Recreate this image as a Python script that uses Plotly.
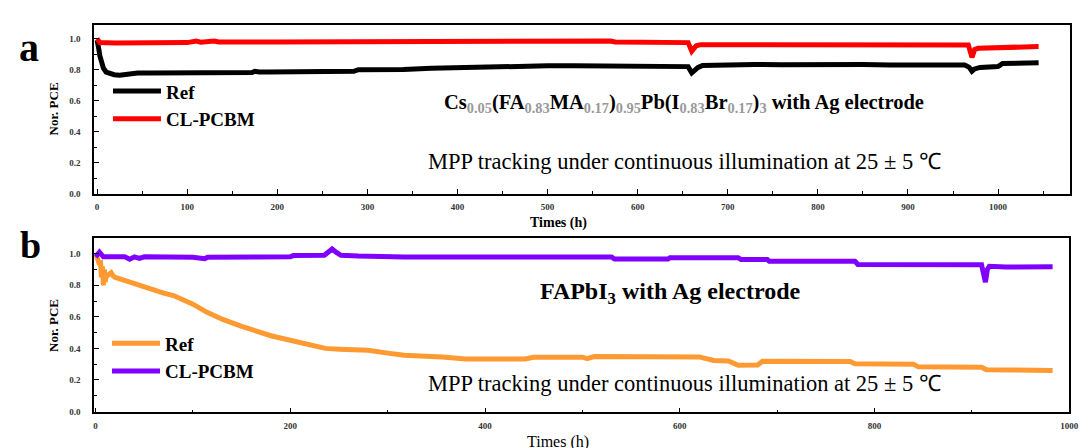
import plotly.graph_objects as go

# ---------------- data ----------------
# Panel a: Cs0.05(FA0.83MA0.17)0.95Pb(I0.83Br0.17)3
a_ref_t = [0, 1, 2, 3, 5, 7, 10, 14, 19, 25, 30, 37, 45, 60, 80, 100, 120, 140, 160, 172, 175, 180,
           190, 200, 230, 260, 285, 290, 310, 340, 371, 400, 430, 450, 475, 500, 530, 560, 590, 620,
           650, 656, 660, 663, 667, 672, 700, 730, 760, 790, 820, 850, 880, 900, 930, 955, 963, 968,
           971, 974, 980, 1000, 1005, 1020, 1045]
a_ref_v = [0.99, 0.97, 0.93, 0.89, 0.84, 0.81, 0.785, 0.775, 0.768, 0.765, 0.77, 0.776, 0.778, 0.778,
           0.779, 0.78, 0.78, 0.78, 0.781, 0.782, 0.79, 0.785, 0.786, 0.786, 0.787, 0.788, 0.79, 0.80,
           0.80, 0.802, 0.81, 0.815, 0.815, 0.818, 0.825, 0.825, 0.826, 0.826, 0.828, 0.827, 0.826,
           0.82, 0.78, 0.80, 0.815, 0.828, 0.832, 0.834, 0.832, 0.834, 0.832, 0.833, 0.830, 0.832,
           0.830, 0.831, 0.83, 0.815, 0.79, 0.805, 0.815, 0.82, 0.84, 0.842, 0.845]

a_cl_t = [0, 1, 3, 20, 60, 100, 110, 115, 130, 135, 200, 285, 290, 342, 400, 420, 500, 570, 575, 650,
          656, 660, 662, 665, 670, 700, 760, 800, 860, 900, 960, 967, 971, 974, 978, 1000, 1020, 1045]
a_cl_v = [1.0, 0.99, 0.975, 0.973, 0.973, 0.975, 0.985, 0.978, 0.985, 0.979, 0.979, 0.98, 0.985,
          0.985, 0.982, 0.985, 0.985, 0.985, 0.979, 0.978, 0.975, 0.92, 0.94, 0.955, 0.962, 0.962,
          0.965, 0.962, 0.965, 0.964, 0.966, 0.96, 0.88, 0.93, 0.938, 0.94, 0.945, 0.95]

# Panel b: FAPbI3
b_ref_t = [0, 2, 4, 5, 6, 7, 8, 9, 10, 11, 12, 14, 16, 18, 20, 25, 30, 40, 50, 60, 70, 80, 90, 100,
           114, 130, 150, 165, 180, 202, 220, 236, 250, 280, 300, 317, 356, 380, 441, 450, 500, 505,
           512, 620, 635, 650, 660, 680, 685, 775, 780, 840, 845, 910, 915, 950, 983]
b_ref_v = [0.99, 0.97, 0.93, 0.96, 0.85, 0.92, 0.80, 0.90, 0.82, 0.88, 0.86, 0.87, 0.88, 0.86, 0.85,
           0.84, 0.83, 0.806, 0.79, 0.77, 0.75, 0.735, 0.71, 0.68, 0.63, 0.585, 0.54, 0.51, 0.48,
           0.448, 0.42, 0.40, 0.395, 0.388, 0.37, 0.357, 0.345, 0.333, 0.333, 0.344, 0.344, 0.335,
           0.348, 0.346, 0.323, 0.32, 0.293, 0.295, 0.318, 0.317, 0.303, 0.30, 0.283, 0.28, 0.265,
           0.265, 0.26]

b_cl_t = [0, 2, 4, 6, 8, 30, 35, 40, 45, 50, 100, 112, 115, 200, 203, 235, 240, 243, 247, 252, 270,
          300, 317, 530, 533, 588, 590, 660, 663, 690, 692, 780, 783, 910, 912, 914, 916, 918, 935, 983]
b_cl_v = [0.98, 1.0, 1.01, 0.995, 0.98, 0.98, 0.965, 0.98, 0.97, 0.98, 0.978, 0.968, 0.978, 0.98,
          0.988, 0.99, 1.01, 1.03, 1.01, 0.99, 0.985, 0.98, 0.979, 0.979, 0.966, 0.966, 0.975, 0.975,
          0.963, 0.963, 0.952, 0.952, 0.932, 0.93, 0.86, 0.82, 0.9, 0.92, 0.915, 0.917]

series_names = ["Ref", "CL-PCBM"]
a_colors = ["#000000", "#ff0000"]
b_colors = ["#ff9a33", "#8000ff"]

a_x_ticks = list(range(0, 1001, 100))
b_x_ticks = list(range(0, 1001, 200))
y_ticks = [0.0, 0.2, 0.4, 0.6, 0.8, 1.0]

# ---------------- figure ----------------
W, H = 1087, 448


def px(x):
    return x / W


def py(y):
    return 1 - y / H


SERIF = "Liberation Serif"

fig = go.Figure()
fig.add_trace(go.Scatter(x=a_ref_t, y=a_ref_v, mode="lines", name=series_names[0],
                         line=dict(color=a_colors[0], width=5), xaxis="x", yaxis="y", legend="legend"))
fig.add_trace(go.Scatter(x=a_cl_t, y=a_cl_v, mode="lines", name=series_names[1],
                         line=dict(color=a_colors[1], width=5), xaxis="x", yaxis="y", legend="legend"))
fig.add_trace(go.Scatter(x=b_ref_t, y=b_ref_v, mode="lines", name=series_names[0],
                         line=dict(color=b_colors[0], width=5), xaxis="x2", yaxis="y2", legend="legend2"))
fig.add_trace(go.Scatter(x=b_cl_t, y=b_cl_v, mode="lines", name=series_names[1],
                         line=dict(color=b_colors[1], width=5), xaxis="x2", yaxis="y2", legend="legend2"))

tickfont = dict(family=SERIF, size=9, color="#333333", weight="bold")
common_axis = dict(showgrid=False, zeroline=False, showline=True, linecolor="black", linewidth=1.5,
                   mirror=True, ticks="inside", ticklen=5, tickwidth=1.2, tickcolor="black",
                   tickfont=tickfont)

legend_font = dict(family=SERIF, size=19, color="black", weight="bold")

fig.update_layout(
    width=W, height=H, margin=dict(l=0, r=0, t=0, b=0),
    paper_bgcolor="white", plot_bgcolor="white",
    font=dict(family=SERIF, color="black"),
    xaxis=dict(common_axis, domain=[px(86), px(1072)], range=[-3.3, 1080], anchor="y",
               tickvals=a_x_ticks, minor=dict(dtick=50, ticks="inside", ticklen=3, tickcolor="black"),
               ticklabelstandoff=4),
    yaxis=dict(common_axis, domain=[py(188), py(17)], range=[-0.002, 1.09], anchor="x",
               tickvals=y_ticks, tickformat=".1f",
               minor=dict(dtick=0.1, ticks="inside", ticklen=3, tickcolor="black"),
               ticklabelstandoff=10),
    xaxis2=dict(common_axis, domain=[px(86), px(1071)], range=[-1.5, 1000], anchor="y2",
                tickvals=b_x_ticks, minor=dict(dtick=100, ticks="inside", ticklen=3, tickcolor="black"),
                ticklabelstandoff=4),
    yaxis2=dict(common_axis, domain=[py(409), py(233)], range=[-0.006, 1.097], anchor="x2",
                tickvals=y_ticks, tickformat=".1f",
                minor=dict(dtick=0.1, ticks="inside", ticklen=3, tickcolor="black"),
                ticklabelstandoff=10),
    legend=dict(x=px(100), y=py(65), xanchor="left", yanchor="top", bgcolor="rgba(0,0,0,0)",
                font=legend_font, itemwidth=48, tracegroupgap=0),
    legend2=dict(x=px(99), y=py(320), xanchor="left", yanchor="top", bgcolor="rgba(0,0,0,0)",
                 font=legend_font, itemwidth=48, tracegroupgap=0),
    showlegend=True,
)

sub = lambda s: f"<sub><span style='color:#999999'>{s}</span></sub>"
formula_a = ("Cs" + sub("0.05") + "(FA" + sub("0.83") + "MA" + sub("0.17") + ")" + sub("0.95")
             + "Pb(I" + sub("0.83") + "Br" + sub("0.17") + ")" + sub("3") + " with Ag electrode")
formula_b = "FAPbI<sub>3</sub> with Ag electrode"
mpp = "MPP tracking under continuous illumination at 25 ± 5 ℃"

ann = []


def add(text, x, y, size, bold=False, angle=0, xanchor="center", yanchor="middle"):
    ann.append(dict(text=text, x=px(x), y=py(y), xref="paper", yref="paper", showarrow=False,
                    xanchor=xanchor, yanchor=yanchor, textangle=angle,
                    font=dict(family=SERIF, size=size, color="black",
                              weight="bold" if bold else "normal")))


add("a", 20, 40, 40, bold=True)
add("b", 22, 240, 38, bold=True)
add(formula_a, 682, 97, 20.5, bold=True)
add(mpp, 682, 155, 22.5)
add(formula_b, 668, 288, 24, bold=True)
add(mpp, 682, 380, 22.5)
add("Nor. PCE", 45, 102, 13, bold=True, angle=-90)
add("Nor. PCE", 45, 321, 13, bold=True, angle=-90)
add("Times (h)", 555, 217, 14, bold=True)
add("Times (h)", 555, 439, 16)
fig.update_layout(annotations=ann)

fig.write_html("out.html")
